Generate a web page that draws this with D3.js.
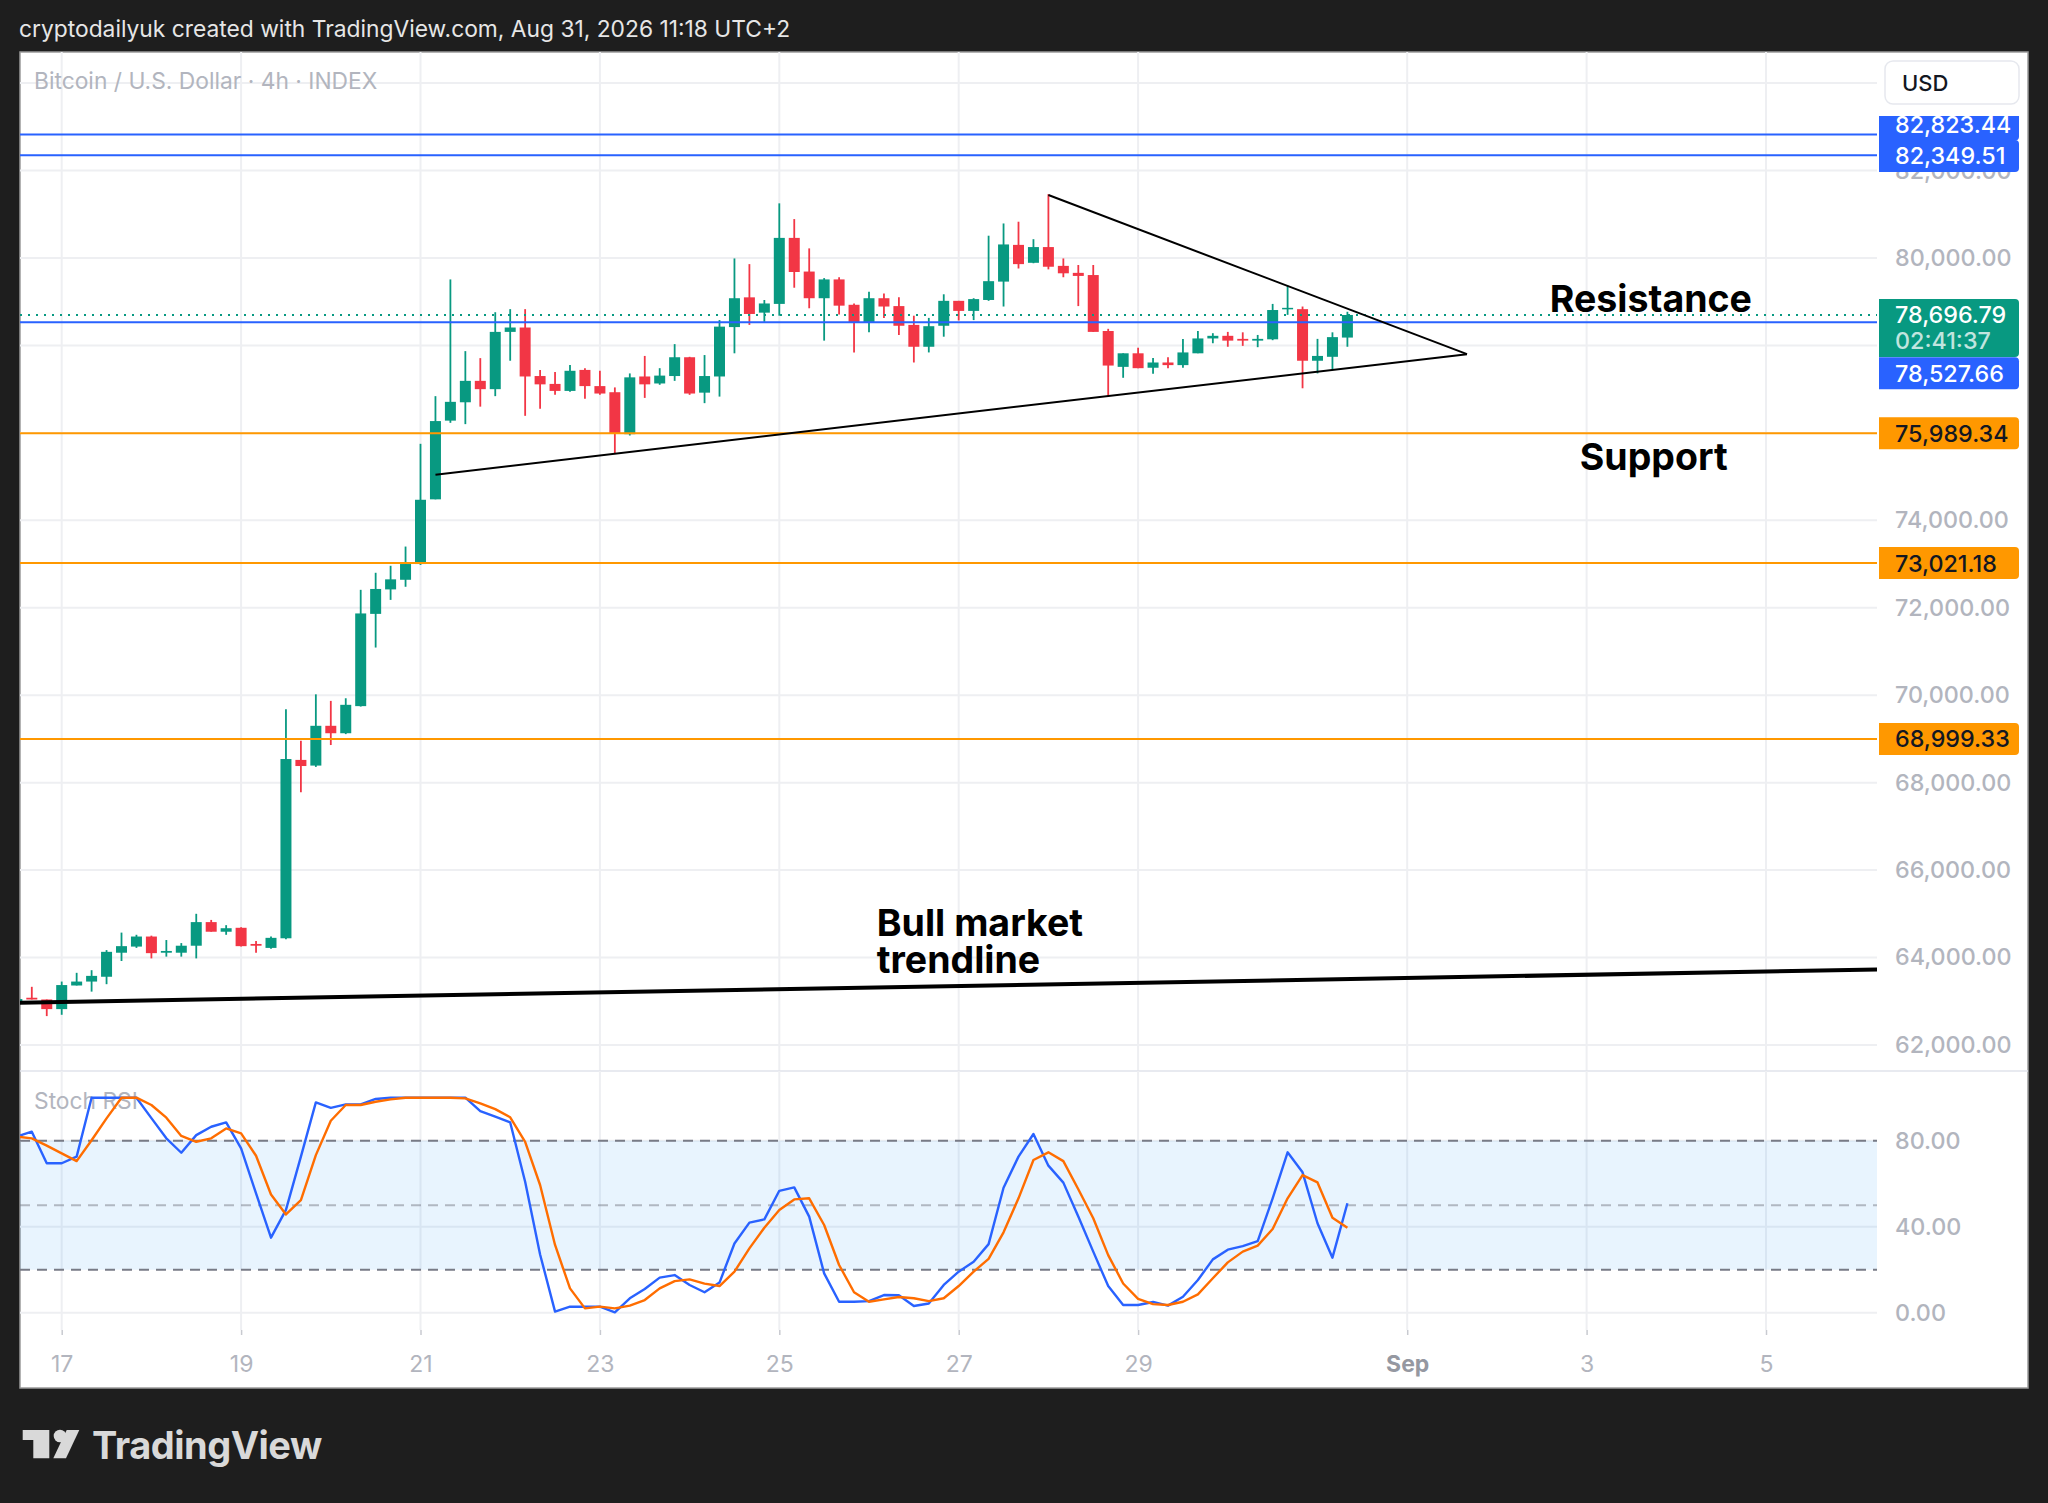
<!DOCTYPE html>
<html>
<head>
<meta charset="utf-8">
<script src="https://cdn.jsdelivr.net/npm/d3@7"></script>
<style>
  body { margin: 0; background: #1e1e1e; }
  svg { display: block; font-family: Inter, "Noto Sans", sans-serif; }
</style>
</head>
<body>
<div id="chart"></div>
<script>
// ---- DATA ----
// 4h candles, first one opens Aug 16 2026 12:00 UTC
const firstCandle = "2026-08-16T12:00:00Z";

const opens = [62960, 63080, 63040, 62820, 63360, 63450, 63560, 64110, 64250, 64480,
  64110, 64110, 64270, 64810, 64590, 64680, 64310, 64220, 64440, 68520,
  68390, 69300, 69130, 69750, 71860, 72420, 72640, 73000, 74480, 76280,
  76700, 77190, 77000, 78310, 78410, 77300, 77120, 76960, 77440, 77070,
  76930, 75970, 77290, 77130, 77300, 77730, 76920, 77290, 78420, 79100,
  78750, 78950, 80460, 79690, 79080, 79510, 78930, 78530, 79080, 78900,
  78470, 77970, 78450, 79020, 78790, 79040, 79460, 80300, 79890, 80250,
  79820, 79660, 79610, 78330, 77510, 77820, 77490, 77610, 77550, 77820,
  78160, 78220, 78150, 78110, 78140, 78830, 78830, 77650, 77740, 78180];
const highs = [63100, 63330, 63040, 63450, 63650, 63710, 64170, 64570, 64520, 64500,
  64400, 64330, 65000, 64860, 64740, 64690, 64380, 64480, 69680, 68960,
  70020, 69870, 69930, 72410, 72800, 72960, 73400, 75750, 76840, 79510,
  77870, 77710, 78760, 78830, 78830, 77440, 77390, 77550, 77480, 77420,
  77040, 77360, 77760, 77480, 78030, 77740, 77780, 78580, 79990, 79860,
  79040, 81250, 80890, 80220, 79540, 79560, 78960, 79230, 79190, 79100,
  78680, 78630, 79170, 79020, 79080, 80510, 80790, 80830, 80430, 81460,
  79990, 79840, 79840, 78380, 77820, 77950, 77710, 77730, 78150, 78330,
  78280, 78310, 78300, 78240, 78950, 79370, 78890, 78150, 78300, 78770];
const lows = [62910, 63040, 62660, 62690, 63360, 63220, 63390, 63920, 64220, 63980,
  64020, 64020, 63980, 64590, 64520, 64250, 64110, 64200, 64420, 67780,
  68360, 68860, 69110, 69740, 71090, 72180, 72480, 72980, 74480, 76230,
  76200, 76600, 76840, 77650, 76390, 76550, 76870, 76940, 76780, 76870,
  75530, 75940, 76800, 77100, 77190, 76870, 76680, 76830, 77820, 78470,
  78540, 78680, 79320, 78850, 78110, 78710, 77840, 78300, 78630, 78240,
  77610, 77840, 78200, 78570, 78580, 79020, 78890, 79760, 79880, 79740,
  79560, 78900, 78310, 76830, 77260, 77480, 77350, 77480, 77490, 77820,
  78050, 77970, 77990, 77960, 78120, 78700, 77020, 77360, 77440, 77970];
const closes = [63050, 63040, 62820, 63370, 63450, 63580, 64130, 64260, 64480, 64100,
  64150, 64270, 64810, 64590, 64670, 64260, 64270, 64450, 68540, 68380,
  69300, 69130, 69780, 71870, 72430, 72650, 73000, 74470, 76270, 76710,
  77190, 77000, 78310, 78410, 77290, 77110, 76960, 77420, 77070, 76900,
  75990, 77270, 77110, 77310, 77730, 76900, 77300, 78430, 79080, 78720,
  78960, 80460, 79680, 79080, 79510, 78910, 78530, 79080, 78890, 78450,
  77970, 78440, 79020, 78790, 79060, 79470, 80310, 79860, 80250, 79800,
  79650, 79590, 78310, 77540, 77820, 77480, 77610, 77550, 77840, 78160,
  78220, 78110, 78110, 78150, 78810, 78860, 77650, 77760, 78190, 78696.79];

// Stoch RSI, one value per candle
const stochK = [81.9, 84.2, 69.5, 69.5, 72.6, 100, 100, 100, 100, 90.5,
  81.1, 74.4, 82.6, 86.5, 88.5, 76.4, 55.5, 34.9, 47.8, 72.6,
  97.8, 95.3, 96.9, 96.9, 99.4, 100, 100, 100, 100, 100,
  100, 93.8, 91.2, 88.5, 60.9, 27.1, 0.5, 2.8, 2.8, 2.8,
  0.2, 6.7, 11.0, 16.3, 17.5, 12.9, 9.5, 14.0, 32.2, 41.9,
  43.4, 56.7, 58.3, 44.7, 18.3, 5.1, 5.1, 5.4, 8.2, 8.1,
  3.1, 4.3, 12.9, 19.1, 23.7, 31.9, 58.1, 72.6, 83.1, 68.4,
  60.5, 44.7, 28.4, 12.4, 3.6, 3.6, 5.0, 3.3, 7.4, 15.2,
  24.8, 29.3, 31.0, 33.3, 53.2, 74.6, 65.3, 41.6, 25.6, 50.9];
const stochD = [81.9, 81.1, 77.7, 74.1, 70.5, 80.2, 90.4, 100, 100, 96.6,
  90.7, 82.2, 79.5, 81.1, 85.7, 83.4, 73.0, 55.0, 45.7, 52.4,
  73.3, 89.3, 96.6, 96.6, 98.1, 99.2, 100, 100, 100, 100,
  99.7, 97.4, 94.7, 90.9, 79.5, 59.4, 31.5, 11.3, 2.0, 2.8,
  2.0, 3.3, 5.9, 11.3, 14.7, 15.5, 13.5, 12.4, 19.1, 29.9,
  39.5, 47.8, 52.7, 53.2, 40.8, 22.2, 9.5, 5.1, 6.2, 7.3,
  6.7, 5.4, 6.7, 12.4, 19.1, 25.0, 37.4, 53.2, 71.0, 74.6,
  70.5, 57.4, 43.9, 26.8, 13.6, 6.4, 4.0, 3.6, 5.1, 8.5,
  16.0, 23.4, 28.4, 31.2, 38.9, 53.2, 64.0, 60.6, 44.2, 39.5];

// axis ticks
const priceTicks = [62000, 64000, 66000, 68000, 70000, 72000, 74000, 76000, 78000, 80000, 82000, 84000];
const stochTicks = [0, 40, 80];
const timeTicks = ["2026-08-17", "2026-08-19", "2026-08-21", "2026-08-23", "2026-08-25",
  "2026-08-27", "2026-08-29", "2026-09-01", "2026-09-03", "2026-09-05"];

// horizontal price lines drawn on the chart
const blueLevels = [82823.44, 82349.51, 78527.66];
const orangeLevels = [75989.34, 73021.18, 68999.33];
const lastPrice = 78696.79;
const countdown = "02:41:37";

// drawings: [time, price]
const triangleUpper = [["2026-08-28T00:00:00Z", 81440], ["2026-09-01T16:00:00Z", 77800]];
const triangleLower = [["2026-08-21T04:00:00Z", 75045], ["2026-09-01T16:00:00Z", 77800]];
const bullTrend = [["2026-08-16T12:00:00Z", 62964], ["2026-09-06T08:00:00Z", 63728]];

const notes = [
  { lines: ["Resistance"], time: "2026-09-02T14:10:00Z", price: 78771 },
  { lines: ["Support"], time: "2026-09-02T22:10:00Z", price: 75151 },
  { lines: ["Bull market", "trendline"], time: "2026-08-26T02:05:00Z", price: 64492 }
];

// ---- LAYOUT ----
const W = 2048, H = 1503;
const plotL = 20, plotR = 1877;
const paneTop = 52, paneSplit = 1071, stochBottom = 1330, panelBottom = 1388;
const upColor = "#089981", downColor = "#f23645";
const gridColor = "#eeeff2", axisText = "#b2b5be";

const candles = opens.map((o, i) => ({
  t: d3.utcHour.offset(new Date(firstCandle), 4 * i),
  o, h: highs[i], l: lows[i], c: closes[i], k: stochK[i], d: stochD[i]
}));

const x = d3.scaleUtc()
  .domain([new Date("2026-08-17T00:00:00Z"), new Date("2026-09-05T00:00:00Z")])
  .range([61.7, 1766.0]);
const y = d3.scaleLinear().domain([62000, 84000]).range([1044.96, 83.12]);
const s = d3.scaleLinear().domain([0, 100]).range([1312.7, 1097.7]);

const svg = d3.select("#chart").append("svg")
  .attr("width", W).attr("height", H);

svg.append("rect").attr("width", W).attr("height", H).attr("fill", "#1e1e1e");

// header
svg.append("text")
  .attr("x", 19).attr("y", 37)
  .attr("fill", "#e6e6e6").style("font-size", "22.8px")
  .text("cryptodailyuk created with TradingView.com, Aug 31, 2026 11:18 UTC+2");

// white chart panel
svg.append("rect")
  .attr("x", plotL).attr("y", paneTop)
  .attr("width", 2028 - plotL).attr("height", panelBottom - paneTop)
  .attr("fill", "#fff").attr("stroke", "#9a9a9a").attr("stroke-width", 1.5);

const defs = svg.append("defs");
defs.append("clipPath").attr("id", "clipPrice").append("rect")
  .attr("x", plotL).attr("y", paneTop).attr("width", plotR - plotL).attr("height", paneSplit - paneTop);
defs.append("clipPath").attr("id", "clipStoch").append("rect")
  .attr("x", plotL).attr("y", paneSplit).attr("width", plotR - plotL).attr("height", stochBottom - paneSplit);
defs.append("clipPath").attr("id", "clipLabels").append("rect")
  .attr("x", plotR).attr("y", 116).attr("width", 160).attr("height", stochBottom - 116);

const tickDates = timeTicks.map(d => new Date(d + "T00:00:00Z"));

// ----------- PRICE PANE -----------
const price = svg.append("g").attr("clip-path", "url(#clipPrice)");

price.selectAll(".hgrid").data(priceTicks).join("line")
  .attr("x1", plotL).attr("x2", plotR)
  .attr("y1", d => y(d)).attr("y2", d => y(d))
  .attr("stroke", gridColor).attr("stroke-width", 2);

price.selectAll(".vgrid").data(tickDates).join("line")
  .attr("x1", d => x(d)).attr("x2", d => x(d))
  .attr("y1", paneTop).attr("y2", paneSplit)
  .attr("stroke", gridColor).attr("stroke-width", 2);

svg.append("text")
  .attr("x", 34).attr("y", 89)
  .attr("fill", axisText).style("font-size", "22.8px")
  .text("Bitcoin / U.S. Dollar · 4h · INDEX");

// candles
const bodyW = 11;
const candle = price.selectAll(".candle").data(candles).join("g")
  .attr("fill", d => d.c >= d.o ? upColor : downColor)
  .attr("stroke", d => d.c >= d.o ? upColor : downColor);

candle.append("line")
  .attr("x1", d => x(d.t)).attr("x2", d => x(d.t))
  .attr("y1", d => y(d.h)).attr("y2", d => y(d.l))
  .attr("stroke-width", 1.8);

candle.append("rect")
  .attr("x", d => x(d.t) - bodyW / 2)
  .attr("width", bodyW)
  .attr("y", d => y(Math.max(d.o, d.c)))
  .attr("height", d => Math.max(1.5, Math.abs(y(d.o) - y(d.c))))
  .attr("stroke", "none");

// level lines
price.append("line")
  .attr("x1", plotL).attr("x2", plotR)
  .attr("y1", y(lastPrice)).attr("y2", y(lastPrice))
  .attr("stroke", upColor).attr("stroke-width", 2)
  .attr("stroke-dasharray", "2,6");

price.selectAll(".blue").data(blueLevels).join("line")
  .attr("x1", plotL).attr("x2", plotR)
  .attr("y1", d => y(d)).attr("y2", d => y(d))
  .attr("stroke", "#2962ff").attr("stroke-width", 2);

price.selectAll(".orange").data(orangeLevels).join("line")
  .attr("x1", plotL).attr("x2", plotR)
  .attr("y1", d => y(d)).attr("y2", d => y(d))
  .attr("stroke", "#ff9800").attr("stroke-width", 2);

// trend drawings
const drawLine = d3.line()
  .x(d => x(new Date(d[0])))
  .y(d => y(d[1]));

price.append("path").datum(triangleUpper)
  .attr("d", drawLine).attr("fill", "none")
  .attr("stroke", "#000").attr("stroke-width", 2);
price.append("path").datum(triangleLower)
  .attr("d", drawLine).attr("fill", "none")
  .attr("stroke", "#000").attr("stroke-width", 2);
price.append("path").datum(bullTrend)
  .attr("d", drawLine).attr("fill", "none")
  .attr("stroke", "#000").attr("stroke-width", 4);

// notes
notes.forEach(n => {
  const t = price.append("text")
    .attr("x", x(new Date(n.time))).attr("y", y(n.price))
    .attr("fill", "#000")
    .style("font-size", "37.5px").style("font-weight", 700);
  n.lines.forEach((line, i) => {
    t.append("tspan")
      .attr("x", x(new Date(n.time)))
      .attr("dy", i === 0 ? 0 : 36.5)
      .text(line);
  });
});

// pane separator
svg.append("line")
  .attr("x1", plotL).attr("x2", 2028)
  .attr("y1", paneSplit).attr("y2", paneSplit)
  .attr("stroke", "#e0e3eb").attr("stroke-width", 1.5);

// ----------- STOCH RSI PANE -----------
const stoch = svg.append("g").attr("clip-path", "url(#clipStoch)");

stoch.selectAll(".vgrid").data(tickDates).join("line")
  .attr("x1", d => x(d)).attr("x2", d => x(d))
  .attr("y1", paneSplit).attr("y2", stochBottom)
  .attr("stroke", gridColor).attr("stroke-width", 2);

stoch.selectAll(".hgrid").data(stochTicks).join("line")
  .attr("x1", plotL).attr("x2", plotR)
  .attr("y1", d => s(d)).attr("y2", d => s(d))
  .attr("stroke", gridColor).attr("stroke-width", 2);

stoch.append("rect")
  .attr("x", plotL).attr("width", plotR - plotL)
  .attr("y", s(80)).attr("height", s(20) - s(80))
  .attr("fill", "#2196f3").attr("fill-opacity", 0.1);

stoch.selectAll(".band").data([80, 50, 20]).join("line")
  .attr("x1", plotL).attr("x2", plotR)
  .attr("y1", d => s(d)).attr("y2", d => s(d))
  .attr("stroke", "#787b86")
  .attr("stroke-opacity", d => d === 50 ? 0.5 : 1)
  .attr("stroke-width", 2)
  .attr("stroke-dasharray", "10,7");

stoch.append("text")
  .attr("x", 34).attr("y", 1109)
  .attr("fill", axisText).style("font-size", "22.8px")
  .text("Stoch RSI");

stoch.append("path").datum(candles)
  .attr("fill", "none").attr("stroke", "#2962ff").attr("stroke-width", 2.4)
  .attr("stroke-linejoin", "round")
  .attr("d", d3.line().x(d => x(d.t)).y(d => s(d.k)));

stoch.append("path").datum(candles)
  .attr("fill", "none").attr("stroke", "#ff6d00").attr("stroke-width", 2.4)
  .attr("stroke-linejoin", "round")
  .attr("d", d3.line().x(d => x(d.t)).y(d => s(d.d)));

// ----------- AXES -----------
const priceAxis = svg.append("g")
  .attr("transform", `translate(${plotR},0)`)
  .call(d3.axisRight(y).tickValues(priceTicks.slice(0, -1))
    .tickFormat(d3.format(",.2f")).tickSize(0).tickPadding(18));
priceAxis.select(".domain").remove();
priceAxis.selectAll("text")
  .attr("fill", axisText).style("font-size", "23.3px").style("font-weight", 500)
  .style("font-family", "Inter, sans-serif");

const stochAxis = svg.append("g")
  .attr("transform", `translate(${plotR},0)`)
  .call(d3.axisRight(s).tickValues(stochTicks)
    .tickFormat(d3.format(".2f")).tickSize(0).tickPadding(18));
stochAxis.select(".domain").remove();
stochAxis.selectAll("text")
  .attr("fill", axisText).style("font-size", "23.3px").style("font-weight", 500)
  .style("font-family", "Inter, sans-serif");

const timeAxis = svg.append("g")
  .attr("transform", `translate(0,${stochBottom})`)
  .call(d3.axisBottom(x).tickValues(tickDates)
    .tickFormat(d => d.getUTCDate() === 1 ? d3.utcFormat("%b")(d) : d3.utcFormat("%-d")(d))
    .tickSize(5).tickPadding(21));
timeAxis.select(".domain").remove();
timeAxis.selectAll("line").attr("stroke", "#c8cad0").attr("stroke-width", 1.5);
timeAxis.selectAll("text")
  .attr("fill", d => d.getUTCDate() === 1 ? "#9598a1" : axisText)
  .style("font-size", "23px")
  .style("font-family", "Inter, sans-serif")
  .style("font-weight", d => d.getUTCDate() === 1 ? 700 : 400);

// USD button
svg.append("rect")
  .attr("x", 1885).attr("y", 61).attr("width", 134).attr("height", 43).attr("rx", 8)
  .attr("fill", "#fff").attr("stroke", "#e6e8ee").attr("stroke-width", 1.5);
svg.append("text")
  .attr("x", 1902).attr("y", 91)
  .attr("fill", "#131722").style("font-size", "22px").style("font-weight", 500)
  .text("USD");

// price labels on the scale
const fmt = d3.format(",.2f");
const labelShift = { 82823.44: -10, 82349.51: 0.7, 78527.66: 51 };
const labels = [
  ...blueLevels.map(v => ({ v, fill: "#2962ff", color: "#fff" })),
  ...orangeLevels.map(v => ({ v, fill: "#ff9800", color: "#131722" }))
];
const labelLayer = svg.append("g").attr("clip-path", "url(#clipLabels)");
const boxPath = (x0, y0, w, h, r) =>
  `M${x0},${y0}H${x0 + w - r}Q${x0 + w},${y0} ${x0 + w},${y0 + r}V${y0 + h - r}Q${x0 + w},${y0 + h} ${x0 + w - r},${y0 + h}H${x0}Z`;

labels.forEach(lb => {
  const cy = y(lb.v) + (labelShift[lb.v] || 0);
  labelLayer.append("path")
    .attr("d", boxPath(1879, cy - 16, 140, 32, 4))
    .attr("fill", lb.fill);
  labelLayer.append("text")
    .attr("x", 1895).attr("y", cy + 8.5)
    .attr("fill", lb.color).style("font-size", "23.3px").style("font-weight", 500)
    .text(fmt(lb.v));
});

// last price label with countdown
const ly = y(lastPrice);
labelLayer.append("path")
  .attr("d", boxPath(1879, ly - 16, 140, 58, 4))
  .attr("fill", upColor);
labelLayer.append("text")
  .attr("x", 1895).attr("y", ly + 8.5)
  .attr("fill", "#fff").style("font-size", "23.3px").style("font-weight", 500)
  .text(fmt(lastPrice));
labelLayer.append("text")
  .attr("x", 1895).attr("y", ly + 34.5)
  .attr("fill", "#fff").attr("fill-opacity", 0.75)
  .style("font-size", "23.3px").style("font-weight", 500)
  .text(countdown);

// footer logo
const logo = svg.append("g").attr("fill", "#d9d9d9");
logo.append("path").attr("d", "M22.7,1430H49.3V1458.3H33.3V1440H22.7Z");
logo.append("circle").attr("cx", 60).attr("cy", 1436).attr("r", 6.3);
logo.append("path").attr("d", "M66.7,1430H79.3L66,1458.3H53.3Z");
svg.append("text")
  .attr("x", 92).attr("y", 1459)
  .attr("fill", "#d9d9d9").style("font-size", "38px").style("font-weight", 700)
  .style("letter-spacing", "-0.5px")
  .text("TradingView");
</script>
</body>
</html>
